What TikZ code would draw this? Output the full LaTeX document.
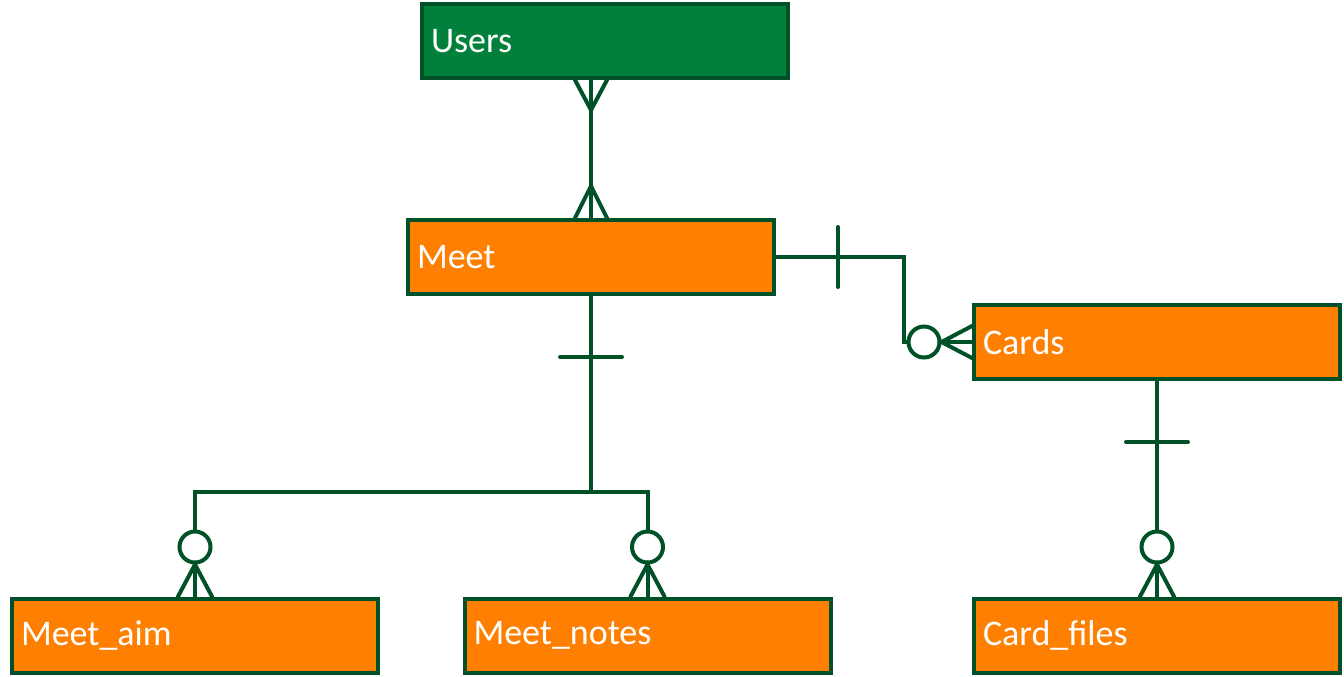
\documentclass[tikz,border=0pt]{standalone}
\usepackage{fontspec}
\setmainfont{Carlito}
\usetikzlibrary{calc}

\definecolor{erline}{RGB}{0,80,40}
\definecolor{usergreen}{RGB}{0,128,58}
\definecolor{tableorange}{RGB}{255,128,0}

\tikzset{
  entity/.style={draw=erline, line width=2pt, minimum width=183pt, minimum height=37pt,
    text width=174pt, align=left, inner xsep=4.5pt, text=white, font=\fontsize{18}{22}\selectfont},
  usersbox/.style={entity, fill=usergreen},
  tablebox/.style={entity, fill=tableorange},
  relline/.style={draw=erline, line width=2pt, line cap=round},
  zero/.style={circle, draw=erline, line width=2pt, fill=white, minimum size=15.5pt, inner sep=0pt}
}

\begin{document}
\begin{tikzpicture}[x=0.5pt,y=-0.5pt]
				\useasboundingbox (0,0) rectangle (1344,676);
				% entities
				\node [usersbox] (users) at (605,41) {Users};
				\node [tablebox] (meet) at (591,257) {Meet};
				\node [tablebox] (cards) at (1157,342) {Cards};
				\node [tablebox] (meetaim) at (195,635.5) {Meet\_aim};
				\node [tablebox] (meetnotes) at (647.5,635.5) {Meet\_notes};
				\node [tablebox] (cardfiles) at (1157,635.5) {Card\_files};
				% zero markers
				\node [zero] (o_cards) at (924,342) {};
				\node [zero] (o_aim) at (195,547) {};
				\node [zero] (o_notes) at (647.5,547) {};
				\node [zero] (o_files) at (1157,547) {};
				\coordinate (m_top) at (meet.north |- users.south);
				\coordinate (m_fork) at ($(meet.south)+(0,196)$);
				% Users -- Meet (many to many)
				\draw [relline] (meet.north) -- (m_top);
				\draw [relline] ($(m_top)+(-16,0)$) -- ($(m_top)+(0,30)$) -- ($(m_top)+(16,0)$);
				\draw [relline] ($(meet.north)+(-16,0)$) -- ($(meet.north)+(0,-32)$) -- ($(meet.north)+(16,0)$);
				% Meet -- Cards
				\draw [relline] (meet.east) -- ++(128,0) |- (o_cards.west);
				\draw [relline] ($(meet.east)+(62,-30)$) -- ++(0,60);
				\draw [relline] (o_cards.east) -- (cards.west);
				\draw [relline] ($(cards.west)+(0,-16)$) -- (o_cards.east) -- ($(cards.west)+(0,16)$);
				% Meet -- Meet_aim, Meet_notes
				\draw [relline] (meet.south) -- (m_fork);
				\draw [relline] ($(meet.south)+(-31,61)$) -- ++(62,0);
				\draw [relline] (o_aim.north) |- (m_fork) -| (o_notes.north);
				\draw [relline] (o_aim.south) -- (meetaim.north);
				\draw [relline] ($(meetaim.north)+(-17,0)$) -- (o_aim.south) -- ($(meetaim.north)+(17,0)$);
				\draw [relline] (o_notes.south) -- (meetnotes.north);
				\draw [relline] ($(meetnotes.north)+(-17,0)$) -- (o_notes.south) -- ($(meetnotes.north)+(17,0)$);
				% Cards -- Card_files
				\draw [relline] (cards.south) -- (o_files.north);
				\draw [relline] ($(cards.south)+(-31,61)$) -- ++(62,0);
				\draw [relline] (o_files.south) -- (cardfiles.north);
				\draw [relline] ($(cardfiles.north)+(-17,0)$) -- (o_files.south) -- ($(cardfiles.north)+(17,0)$);
\end{tikzpicture}
\end{document}
